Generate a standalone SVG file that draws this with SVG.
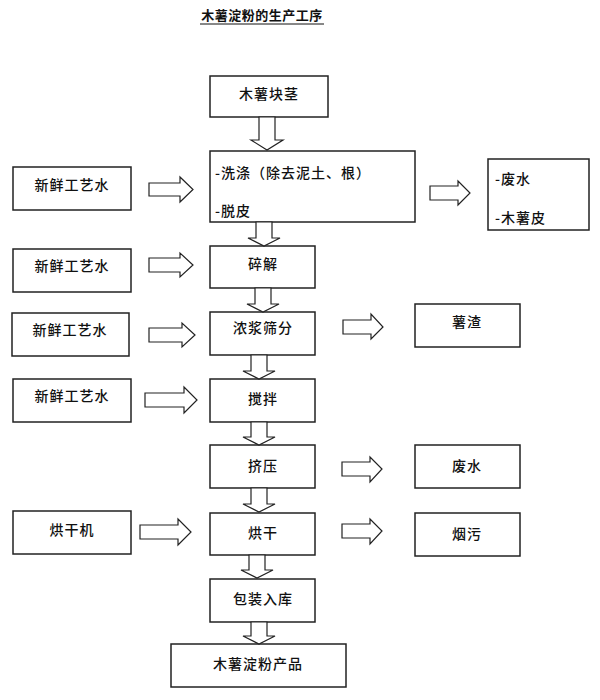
<svg xmlns="http://www.w3.org/2000/svg" width="600" height="700" viewBox="0 0 600 700">
<style>
.box{fill:#fff;stroke:#222;stroke-width:1.5}
.arr{fill:#fff;stroke:#222;stroke-width:1.2;stroke-linejoin:miter}
text{font-family:"Noto Sans CJK SC","Liberation Sans",sans-serif;font-size:14px;font-weight:500;fill:#111;letter-spacing:1px}
.c{text-anchor:middle;dominant-baseline:central}
.l{dominant-baseline:central}
.title{font-size:13px;font-weight:bold;text-anchor:middle;letter-spacing:0.5px}
</style>
<rect width="600" height="700" fill="#fff"/>
<g id="title">
<text class="title" x="262" y="20">木薯淀粉的生产工序</text>
<line x1="200" y1="24" x2="324" y2="24" stroke="#111" stroke-width="1"/>
</g>
<g id="n_raw"><rect class="box" x="210" y="76" width="118" height="41"/><text class="c" x="269" y="93">木薯块茎</text></g>
<g id="n_wash"><rect class="box" x="210" y="151" width="205" height="71"/><text class="l" x="215" y="172">-洗涤（除去泥土、根）</text><text class="l" x="215" y="210">-脱皮</text></g>
<g id="n_out1"><rect class="box" x="488" y="159" width="101" height="71"/><text class="l" x="495" y="178">-废水</text><text class="l" x="495" y="217">-木薯皮</text></g>
<g id="n_w1"><rect class="box" x="13" y="167" width="118" height="43"/><text class="c" x="72" y="184">新鲜工艺水</text></g>
<g id="n_w2"><rect class="box" x="13" y="249" width="118" height="43"/><text class="c" x="72" y="265">新鲜工艺水</text></g>
<g id="n_w3"><rect class="box" x="12" y="313" width="117" height="43"/><text class="c" x="70" y="329">新鲜工艺水</text></g>
<g id="n_w4"><rect class="box" x="13" y="379" width="118" height="43"/><text class="c" x="72" y="395">新鲜工艺水</text></g>
<g id="n_crush"><rect class="box" x="210" y="246" width="105" height="42"/><text class="c" x="263" y="263">碎解</text></g>
<g id="n_sieve"><rect class="box" x="210" y="312" width="105" height="43"/><text class="c" x="263" y="327">浓浆筛分</text></g>
<g id="n_residue"><rect class="box" x="415" y="304" width="105" height="43"/><text class="c" x="467" y="321">薯渣</text></g>
<g id="n_stir"><rect class="box" x="210" y="379" width="105" height="43"/><text class="c" x="263" y="398">搅拌</text></g>
<g id="n_press"><rect class="box" x="210" y="445" width="105" height="43"/><text class="c" x="263" y="465">挤压</text></g>
<g id="n_waste"><rect class="box" x="415" y="445" width="105" height="43"/><text class="c" x="467" y="465">废水</text></g>
<g id="n_dryer"><rect class="box" x="13" y="511" width="118" height="43"/><text class="c" x="72" y="529">烘干机</text></g>
<g id="n_dry"><rect class="box" x="210" y="513" width="105" height="42"/><text class="c" x="263" y="532">烘干</text></g>
<g id="n_smoke"><rect class="box" x="415" y="513" width="105" height="43"/><text class="c" x="467" y="533">烟污</text></g>
<g id="n_pack"><rect class="box" x="210" y="579" width="105" height="43"/><text class="c" x="263" y="598">包装入库</text></g>
<g id="n_product"><rect class="box" x="171" y="644" width="175" height="43"/><text class="c" x="258" y="663">木薯淀粉产品</text></g>
<g id="connectors">
<polygon class="arr" points="259,117 275,117 275,140 283,140 267,150 251,140 259,140"/>
<polygon class="arr" points="256,222 272,222 272,238 280,238 264,246 248,238 256,238"/>
<polygon class="arr" points="255,288 271,288 271,304 279,304 263,312 247,304 255,304"/>
<polygon class="arr" points="251,355 267,355 267,371 275,371 259,379 243,371 251,371"/>
<polygon class="arr" points="251,422 267,422 267,437 275,437 259,445 243,437 251,437"/>
<polygon class="arr" points="251,488 267,488 267,504 275,504 259,512 243,504 251,504"/>
<polygon class="arr" points="249,555 265,555 265,570 273,570 257,578 241,570 249,570"/>
<polygon class="arr" points="251,622 267,622 267,636 275,636 259,644 243,636 251,636"/>
<polygon class="arr" points="149,183 180,183 180,177 193,189.5 180,202 180,196 149,196"/>
<polygon class="arr" points="149,258 180,258 180,253 193,265 180,277 180,272 149,272"/>
<polygon class="arr" points="149,328 182,328 182,323 195,335 182,347 182,342 149,342"/>
<polygon class="arr" points="145,393 184,393 184,387 197,400 184,413 184,407 145,407"/>
<polygon class="arr" points="140,525 178,525 178,519 191,532 178,545 178,539 140,539"/>
<polygon class="arr" points="430,186 458,186 458,181 470,193 458,205 458,200 430,200"/>
<polygon class="arr" points="343,320 371,320 371,314 383,327 371,339 371,334 343,334"/>
<polygon class="arr" points="342,462 370,462 370,457 382,469 370,482 370,476 342,476"/>
<polygon class="arr" points="342,524 370,524 370,519 382,531 370,544 370,538 342,538"/>
</g>
</svg>
